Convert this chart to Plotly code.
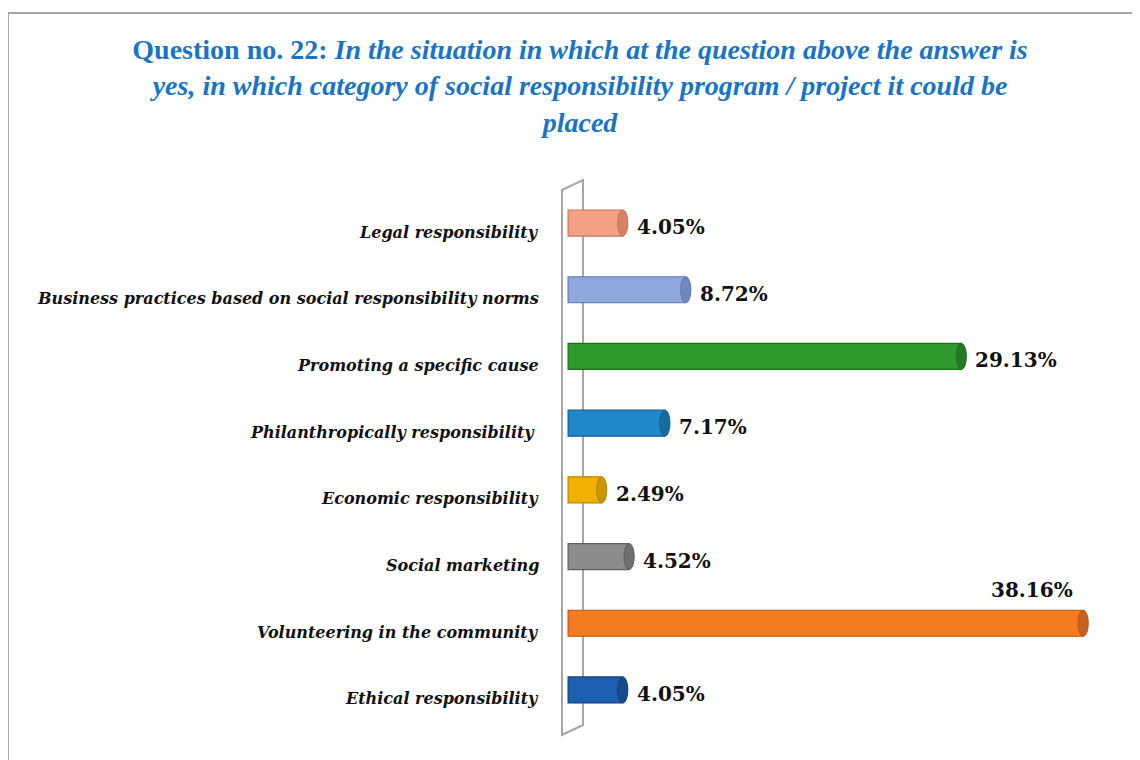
import plotly.graph_objects as go

categories = [
    "Legal responsibility",
    "Business practices based on social responsibility norms",
    "Promoting a specific cause",
    "Philanthropically responsibility ",
    "Economic responsibility",
    "Social marketing",
    "Volunteering in the community",
    "Ethical responsibility",
]
values = [4.05, 8.72, 29.13, 7.17, 2.49, 4.52, 38.16, 4.05]
colors = ["#F4A185", "#8FA8DE", "#2E9A2E", "#1E88C8", "#F2B100", "#8C8C8C", "#F47B20", "#1C5FAE"]
edge_colors = ["#C8735A", "#5F78B0", "#1E6E1E", "#145E8E", "#B88400", "#5E5E5E", "#B8560F", "#123F78"]
cap_colors = ["#D9826A", "#7088C0", "#237A23", "#176CA0", "#CC9600", "#6E6E6E", "#C9621A", "#164C8C"]

OFF = 8  # page body margin
W, H = 1132, 752
L, R, T, B = 552, 32, 167, 20
pw, ph = W - L - R, H - T - B


def px(x):
    return (x - OFF - L) / pw


def py(y):
    return (H - B - (y - OFF)) / ph


labels = [f"{v:.2f}%" for v in values]
max_i = values.index(max(values))

fig = go.Figure()
fig.add_trace(go.Bar(
    x=values, y=categories, orientation="h",
    marker=dict(color=colors, line=dict(color=edge_colors, width=1.2)),
    width=0.39,
    hoverinfo="skip",
))

label_font = dict(family="DejaVu Serif", size=20, color="#111111")
cat_font = dict(family="DejaVu Serif", size=16, color="#111111")
for i, (v, c, t) in enumerate(zip(values, categories, labels)):
    if i == max_i:
        fig.add_annotation(x=v, y=c, text="<b>" + t + "</b>", showarrow=False,
                           xanchor="right", yanchor="bottom", yshift=19, xshift=-8,
                           font=label_font)
    else:
        fig.add_annotation(x=v, y=c, text="<b>" + t + "</b>", showarrow=False,
                           xanchor="left", yanchor="middle", yshift=-4, xshift=12,
                           font=label_font)
    # category label
    fig.add_annotation(x=px(541), xref="paper", y=c, yref="y",
                       text="<b><i>" + c + "</i></b>", showarrow=False,
                       xanchor="right", yanchor="middle", yshift=-9,
                       font=cat_font)

shapes = []
# 3D wall
wall = (f"M {px(562)},{py(190)} L {px(562)},{py(735)} L {px(583)},{py(725)} "
        f"L {px(583)},{py(180)} Z")
shapes.append(dict(type="path", path=wall, xref="paper", yref="paper",
                   line=dict(color="#A6A6A6", width=2), fillcolor="white", layer="below"))
# cylinder end caps
for i, v in enumerate(values):
    shapes.append(dict(type="circle", xref="x", yref="y",
                       x0=v - 0.38, x1=v + 0.38, y0=i - 0.195, y1=i + 0.195,
                       fillcolor=cap_colors[i], line=dict(color=edge_colors[i], width=1),
                       layer="above"))
# outer frame
shapes.append(dict(type="line", xref="paper", yref="paper", x0=px(8), x1=px(1141),
                   y0=py(13), y1=py(13), line=dict(color="#A6A6A6", width=2)))
shapes.append(dict(type="line", xref="paper", yref="paper", x0=px(8), x1=px(8),
                   y0=py(13), y1=py(761), line=dict(color="#A6A6A6", width=2)))

fig.update_layout(
    width=W, height=H,
    margin=dict(l=L, r=R, t=T, b=B),
    paper_bgcolor="white", plot_bgcolor="white",
    showlegend=False,
    shapes=shapes,
    title=dict(
        text=("<b>Question no. 22: <i>In the situation in which at the question above the answer is"
              "<br>yes, in which category of social responsibility program / project it could be"
              "<br>placed</i></b>"),
        x=(580 - OFF) / W, xref="container", xanchor="center",
        y=1 - (59 - OFF) / H, yref="container", yanchor="top",
        font=dict(family="Liberation Serif", size=28, color="#1A74C4"),
    ),
    bargap=0.6,
)

fig.update_xaxes(range=[-0.6, 40], visible=False, fixedrange=True)
fig.update_yaxes(
    categoryorder="array", categoryarray=categories,
    range=[7.75, -0.72], showgrid=False, zeroline=False, showline=False,
    ticks="", showticklabels=False,
)

fig.write_html("out.html")
